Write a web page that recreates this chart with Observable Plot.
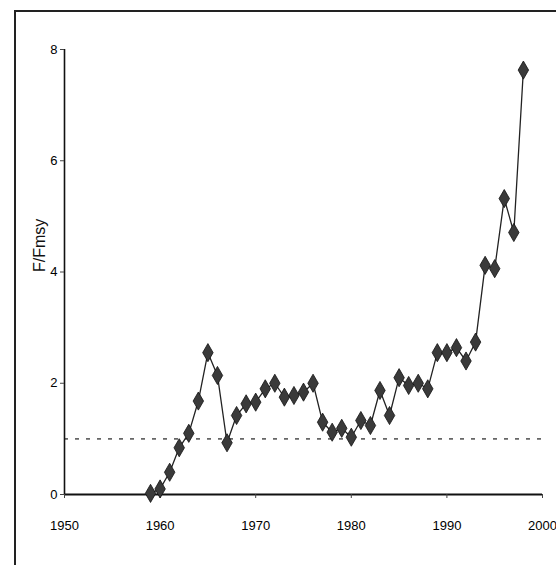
<!DOCTYPE html>
<html>
<head>
<meta charset="utf-8">
<script src="https://cdn.jsdelivr.net/npm/d3@7"></script>
<script src="https://cdn.jsdelivr.net/npm/@observablehq/plot@0.6"></script>
<style>
  html, body { margin: 0; padding: 0; background: #fff; overflow: hidden; }
  #wrap { position: relative; width: 556px; height: 565px; overflow: hidden; }
  #frame { position: absolute; left: 14px; top: 10px; width: 600px; height: 600px;
           border: 2px solid #222; box-sizing: border-box; pointer-events: none; }
  #chart { position: absolute; left: 0; top: 0; }
</style>
</head>
<body>
<div id="wrap"><div id="chart"></div><div id="frame"></div></div>
<script>
const years = [1959,1960,1961,1962,1963,1964,1965,1966,1967,1968,1969,1970,1971,1972,1973,1974,1975,1976,1977,1978,
               1979,1980,1981,1982,1983,1984,1985,1986,1987,1988,1989,1990,1991,1992,1993,1994,1995,1996,1997,1998];
const fFmsy = [0.02,0.1,0.4,0.84,1.1,1.68,2.55,2.14,0.93,1.42,1.63,1.66,1.9,2.0,1.75,1.78,1.84,2.0,1.3,1.12,
               1.19,1.03,1.33,1.24,1.87,1.42,2.1,1.96,2.0,1.9,2.55,2.55,2.64,2.4,2.74,4.12,4.06,5.32,4.71,7.63];
const xTicks = [1950,1960,1970,1980,1990,2000];
const yTicks = [0,2,4,6,8];
const refLevel = [1];
const yLabel = "F/Fmsy";

const data = years.map((y, i) => ({year: y, value: fFmsy[i]}));

const chart = Plot.plot({
  width: 556,
  height: 565,
  marginLeft: 64,
  marginRight: 14,
  marginTop: 49,
  marginBottom: 71,
  style: {fontFamily: "Liberation Sans, Arial, sans-serif", background: "transparent"},
  x: {domain: [1950, 2000]},
  y: {domain: [0, 8]},
  marks: [
    Plot.ruleY(refLevel, {stroke: "#666", strokeWidth: 1.6, strokeDasharray: "4,7"}),
    Plot.ruleX([1950], {y1: 0, y2: 8, stroke: "#111", strokeWidth: 1.6}),
    Plot.ruleY([0], {stroke: "#111", strokeWidth: 2}),
    Plot.axisX({ticks: xTicks, tickFormat: d => String(d), tickSize: 4, tickPadding: 22,
                fontSize: 13, label: null, stroke: "#444"}),
    Plot.axisY({ticks: yTicks, tickSize: 4, tickPadding: 3, fontSize: 13, label: null, stroke: "#444"}),
    Plot.text([yLabel], {frameAnchor: "left", dx: -25, rotate: -90, text: d => d,
                         fontSize: 16, fill: "#111"}),
    Plot.line(data, {x: "year", y: "value", stroke: "#222", strokeWidth: 1.3}),
    Plot.dot(data, {x: "year", y: "value", symbol: "diamond", r: 5.5, fill: "#3a3a3a",
                    stroke: "#111", strokeWidth: 0.8})
  ]
});
document.getElementById("chart").appendChild(chart);
</script>
</body>
</html>
